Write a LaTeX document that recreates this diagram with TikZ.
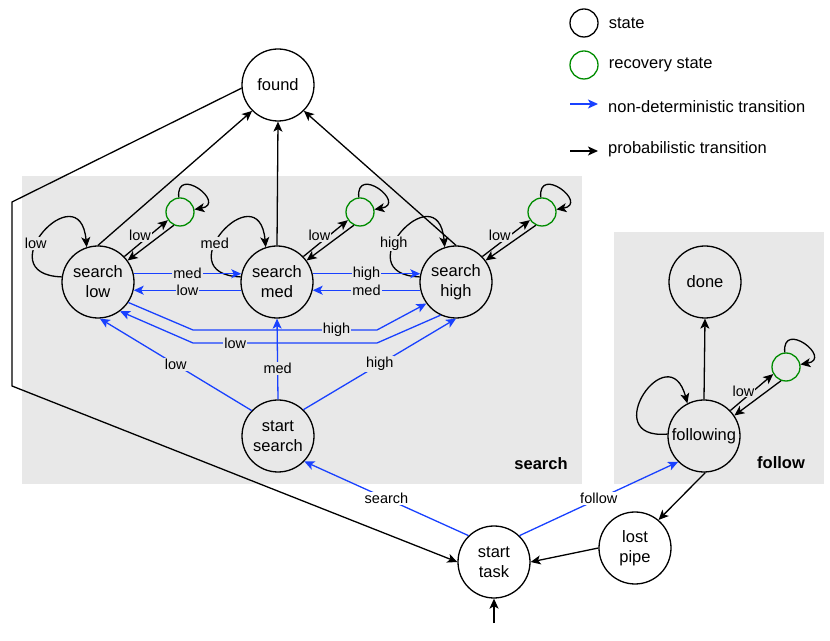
\documentclass[tikz,border=0pt]{standalone}
\usepackage{fontspec}
\setmainfont{Liberation Sans}
\usetikzlibrary{arrows.meta,positioning}
\definecolor{ndblue}{RGB}{25,65,255}
\definecolor{recgreen}{RGB}{0,140,0}
\definecolor{boxgray}{RGB}{232,232,232}

\begin{document}
\begin{tikzpicture}[
  x=1pt, y=1pt,
  font=\fontsize{16.5}{20}\selectfont,
  state/.style={draw, circle, line width=1.3pt, minimum size=72pt, inner sep=0pt, align=center},
  recov/.style={draw=recgreen, circle, line width=1.3pt, minimum size=28pt, inner sep=0pt},
  arrow/.style={-{Stealth[length=10pt,width=9pt,inset=2.5pt]}, line width=1.3pt},
  nd/.style={arrow, ndblue},
  lbl/.style={font=\fontsize{14.5}{16}\selectfont, text=black, fill=boxgray, inner sep=1pt},
  wlbl/.style={lbl, fill=white},
  legtext/.style={inner sep=0pt, anchor=west},
  grouplabel/.style={font=\bfseries\fontsize{16.5}{20}\selectfont}
]

\useasboundingbox (0,0) rectangle (830,640);

% grey groups
\fill[boxgray] (22,156) rectangle (582,464);
\fill[boxgray] (614,156) rectangle (824,408);
\node[grouplabel] (gsearch) at (541,176) {search};
\node[grouplabel] (gfollow) at (781,177) {follow};

% legend
\node[state, minimum size=28pt] (lstate) at (584,617) {};
\node[legtext, right=10pt of lstate] (lstatetext) {state};
\node[recov] (lrec) at (584,575) {};
\node[legtext, right=10pt of lrec] (lrectext) {recovery state};
\coordinate (lnda) at (570,536);
\coordinate (lndb) at (598,536);
\draw[nd] (lnda) -- (lndb);
\node[legtext] (lndtext) at (608,533) {non-deterministic transition};
\coordinate (lpra) at (570,489);
\coordinate (lprb) at (598,489);
\draw[arrow] (lpra) -- (lprb);
\node[legtext] (lprtext) at (608,491) {probabilistic transition};

% states
\node[state] (found) at (278,555) {found};
\node[state] (slow) at (98,358) {search\\low};
\node[state] (smed) at (277,358) {search\\med};
\node[state] (shigh) at (456,358) {search\\high};
\node[state] (sstart) at (278,204) {start\\search};
\node[state] (tstart) at (494,78) {start\\task};
\node[state] (lost) at (635,92) {lost\\pipe};
\node[state] (following) at (704,204) {following};
\node[state] (done) at (705,358) {done};

% recovery states
\node[recov] (rlow) at (180,428) {};
\node[recov] (rmed) at (360,428) {};
\node[recov] (rhigh) at (542,428) {};
\node[recov] (rfol) at (786,273) {};

% search -> found
\draw[arrow] (slow.north) -- (found.225);
\draw[arrow] (smed.north) -- (found.south);
\draw[arrow] (shigh.north) -- (found.315);

% found -> start task
\coordinate (fb1) at (12,438);
\coordinate (fb2) at (12,254);
\draw[arrow] (found.185) -- (fb1) -- (fb2) -- (tstart.west);

% self loops
\draw[arrow] (slow.172) to[out=178,in=95,looseness=5] node[lbl,pos=0.4] {low} (slow.108);
\draw[arrow] (smed.172) to[out=178,in=95,looseness=5] node[lbl,pos=0.4] {med} (smed.108);
\draw[arrow] (shigh.172) to[out=178,in=95,looseness=5] node[lbl,pos=0.4] {high} (shigh.108);

% recovery
\draw[arrow] (slow.44) -- node[lbl,pos=0.45,xshift=-4pt,yshift=5pt] {low} (rlow.214);
\draw[arrow] (rlow.245) -- (slow.36);
\draw[arrow] (rlow.95) to[out=95,in=10,looseness=4.3] (rlow.10);
\draw[arrow] (smed.44) -- node[lbl,pos=0.45,xshift=-4pt,yshift=5pt] {low} (rmed.214);
\draw[arrow] (rmed.245) -- (smed.36);
\draw[arrow] (rmed.95) to[out=95,in=10,looseness=4.3] (rmed.10);
\draw[arrow] (shigh.44) -- node[lbl,pos=0.45,xshift=-4pt,yshift=5pt] {low} (rhigh.214);
\draw[arrow] (rhigh.245) -- (shigh.36);
\draw[arrow] (rhigh.95) to[out=95,in=10,looseness=4.3] (rhigh.10);

% between search levels
\draw[nd] (slow.13) -- node[lbl] {med} (smed.167);
\draw[nd] (smed.193) -- node[lbl] {low} (slow.347);
\draw[nd] (smed.13) -- node[lbl] {high} (shigh.167);
\draw[nd] (shigh.193) -- node[lbl] {med} (smed.347);

\coordinate (hb1) at (193,310);
\coordinate (hb2) at (377,310);
\coordinate (lb1) at (193,297);
\coordinate (lb2) at (377,297);
\draw[nd] (slow.326) -- (hb1) -- node[lbl,pos=0.78] {high} (hb2) -- (shigh.216);
\draw[nd] (shigh.245) -- (lb2) -- node[lbl,pos=0.77] {low} (lb1) -- (slow.307);

% start search
\draw[nd] (sstart.136) -- node[lbl] {low} (slow.273);
\draw[nd] (sstart.north) -- node[lbl,pos=0.38] {med} (smed.south);
\draw[nd] (sstart.46) -- node[lbl] {high} (shigh.south);

% start task
\coordinate (init) at (494,17);
\draw[arrow] (init) -- (tstart.south);
\draw[nd] (tstart.134) -- node[wlbl] {search} (sstart.316);
\draw[nd] (tstart.46) -- node[wlbl] {follow} (following.225);

% follow
\draw[arrow] (following.north) -- (done.south);
\draw[arrow] (following.272) -- (lost.50);
\draw[arrow] (lost.west) -- (tstart.east);
\draw[arrow] (following.177) to[out=185,in=105,looseness=5] (following.117);
\draw[arrow] (following.44) -- node[lbl,pos=0.4,xshift=-4pt,yshift=5pt] {low} (rfol.209);
\draw[arrow] (rfol.250) -- (following.34);
\draw[arrow] (rfol.95) to[out=95,in=10,looseness=4.3] (rfol.10);

\end{tikzpicture}
\end{document}
